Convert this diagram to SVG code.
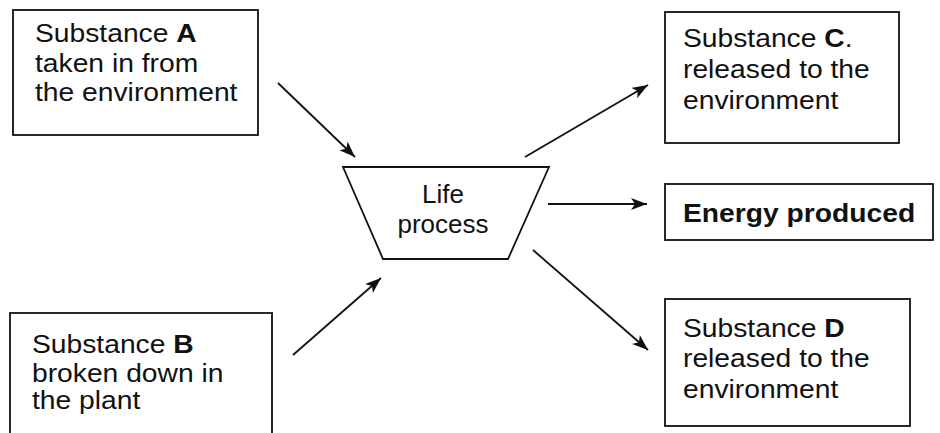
<svg xmlns="http://www.w3.org/2000/svg" width="940" height="433" viewBox="0 0 940 433">
<style>
.box{fill:#fff;stroke:#111;stroke-width:1.8}
.t{font-family:"Liberation Sans",Arial,sans-serif;font-size:25px;fill:#111}
.b{font-weight:bold}
.con{stroke:#111;stroke-width:1.8;fill:none;marker-end:url(#ah)}
</style>
<defs>
<marker id="ah" markerUnits="userSpaceOnUse" markerWidth="18" markerHeight="14" refX="16" refY="6" orient="auto">
<path d="M0,0 L16,6 L0,12 L4,6 Z" fill="#111"/>
</marker>
</defs>
<rect width="940" height="433" fill="#fff"/>
<g id="connectors">
<line class="con" x1="278" y1="83" x2="355" y2="157"/>
<line class="con" x1="293" y1="355" x2="381" y2="278"/>
<line class="con" x1="525" y1="157" x2="648" y2="85"/>
<line class="con" x1="548" y1="204" x2="647" y2="204"/>
<line class="con" x1="533" y1="250" x2="648" y2="350"/>
</g>
<g id="nodeA">
<rect class="box" x="13" y="10" width="245" height="125"/>
<g transform="translate(35,0) scale(1.13,1)">
<text class="t" x="0" y="42">Substance <tspan class="b">A</tspan></text>
<text class="t" x="0" y="72">taken in from</text>
<text class="t" x="0" y="101">the environment</text>
</g>
</g>
<g id="nodeB">
<rect class="box" x="10" y="313" width="262" height="130"/>
<g transform="translate(32,0) scale(1.13,1)">
<text class="t" x="0" y="353">Substance <tspan class="b">B</tspan></text>
<text class="t" x="0" y="382">broken down in</text>
<text class="t" x="0" y="409">the plant</text>
</g>
</g>
<g id="life">
<polygon class="box" points="343,167 549,167 508,259 383,259"/>
<g transform="translate(443,0) scale(1.04,1)">
<text class="t" x="0" y="203" text-anchor="middle">Life</text>
<text class="t" x="0" y="233" text-anchor="middle">process</text>
</g>
</g>
<g id="nodeC">
<rect class="box" x="665" y="12" width="234" height="131"/>
<g transform="translate(683,0) scale(1.13,1)">
<text class="t" x="0" y="47">Substance <tspan class="b">C</tspan>.</text>
<text class="t" x="0" y="78">released to the</text>
<text class="t" x="0" y="109">environment</text>
</g>
</g>
<g id="energy">
<rect class="box" x="665" y="184" width="268" height="56"/>
<g transform="translate(683,0) scale(1.13,1)">
<text class="t b" x="0" y="222">Energy produced</text>
</g>
</g>
<g id="nodeD">
<rect class="box" x="665" y="299" width="245" height="127"/>
<g transform="translate(683,0) scale(1.13,1)">
<text class="t" x="0" y="337">Substance <tspan class="b">D</tspan></text>
<text class="t" x="0" y="367">released to the</text>
<text class="t" x="0" y="398">environment</text>
</g>
</g>
</svg>
